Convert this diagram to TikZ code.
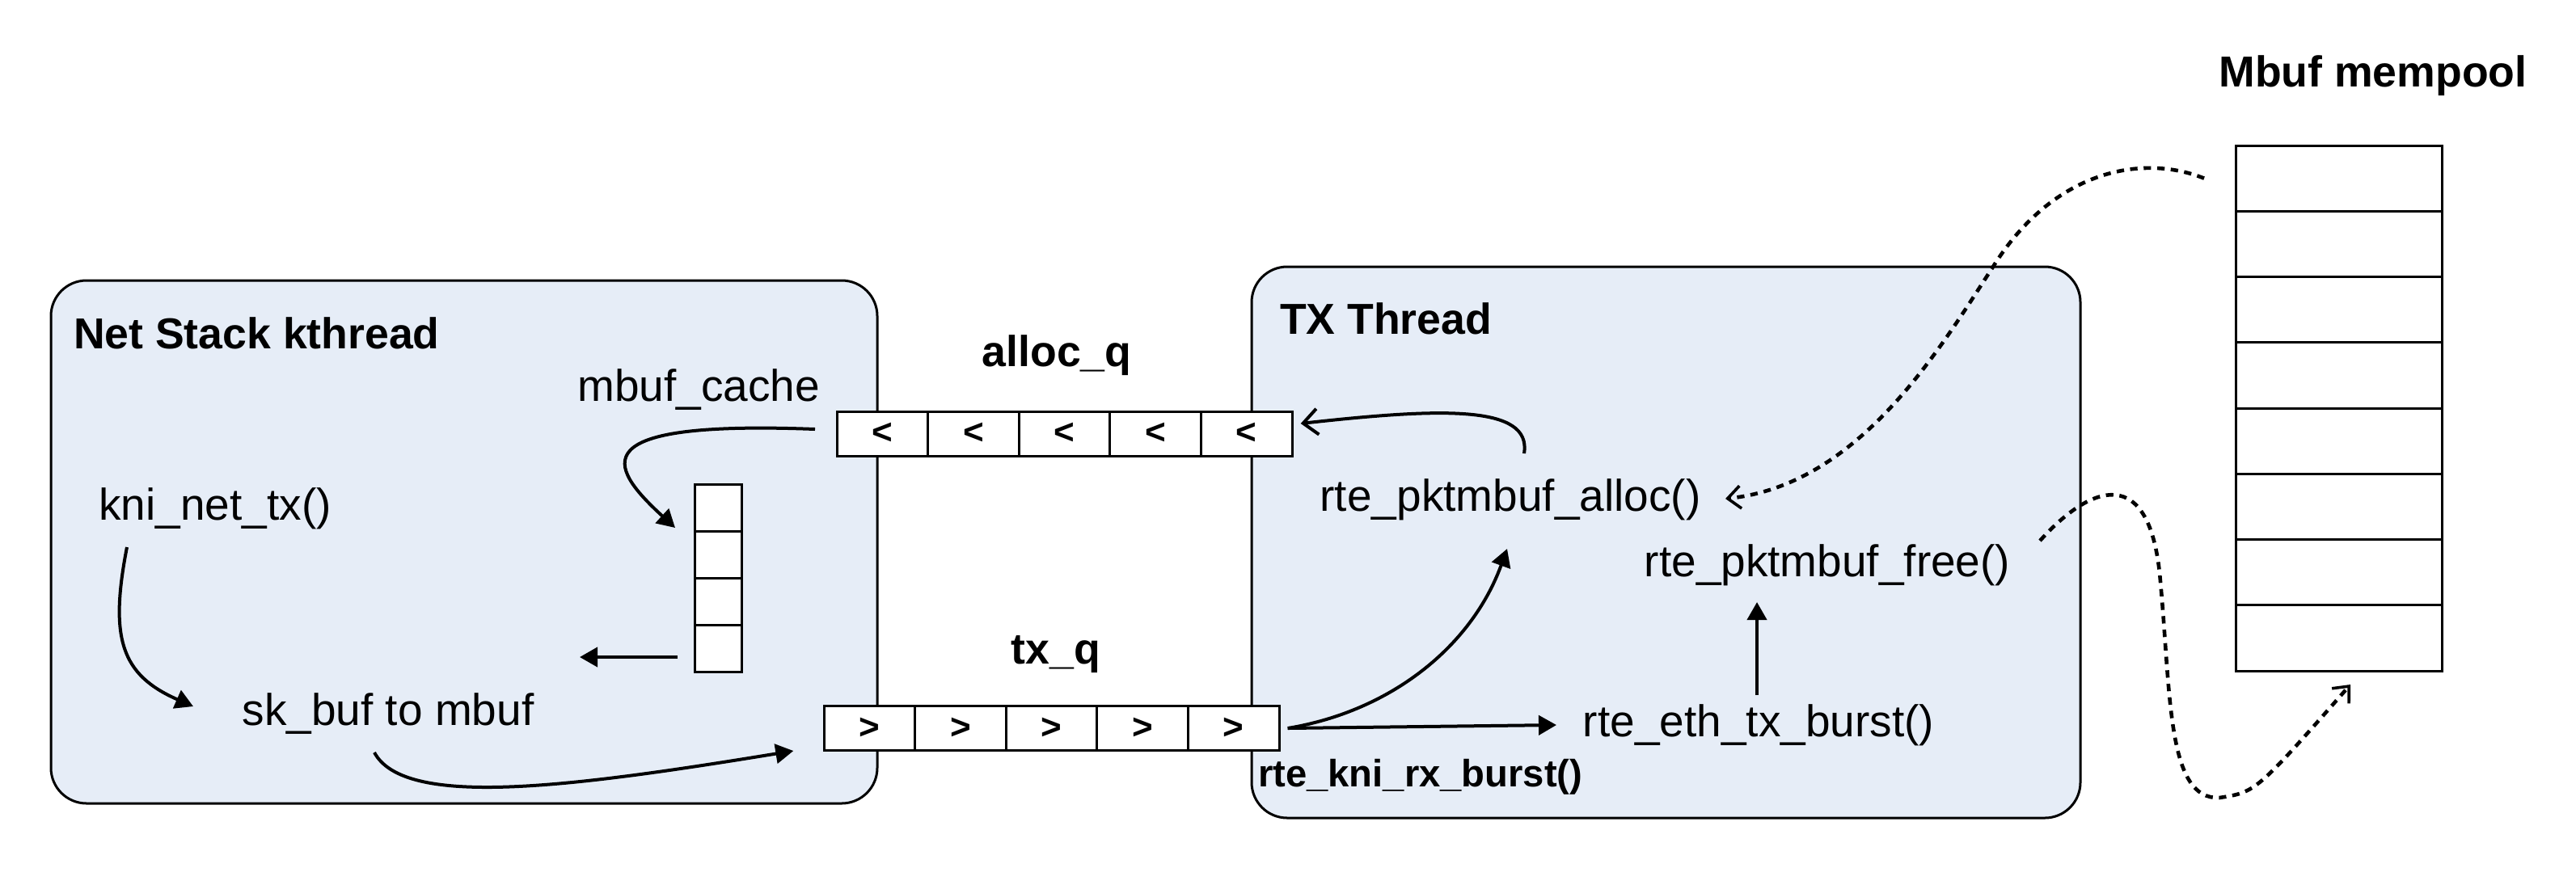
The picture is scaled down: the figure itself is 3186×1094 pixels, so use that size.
\documentclass[tikz,border=0pt]{standalone}
\usepackage{fontspec}
\setmainfont{Liberation Sans}
\usetikzlibrary{arrows.meta}
\definecolor{threadfill}{RGB}{230,237,247}
\begin{document}
\begin{tikzpicture}[x=0.25pt,y=-0.25pt,
  every node/.style={inner sep=0pt, outer sep=0pt},
  txt/.style={font=\fontsize{13.75}{16}\selectfont},
  ttl/.style={font=\bfseries\fontsize{13.4}{16}\selectfont},
  small/.style={font=\bfseries\fontsize{11.8}{14}\selectfont},
  thread/.style={draw, line width=0.75pt, fill=threadfill, rounded corners=11pt},
  qcell/.style={draw, fill=white, line width=0.75pt, minimum width=28.15pt, minimum height=13.75pt, font=\bfseries\fontsize{11}{12}\selectfont},
  scell/.style={draw, fill=white, line width=0.75pt, minimum width=14.5pt, minimum height=14.5pt},
  mcell/.style={draw, fill=white, line width=0.75pt, minimum width=63.75pt, minimum height=20.31pt},
  arr/.style={line width=1pt, -{Triangle[length=5.5pt,width=6pt]}},
  openarr/.style={line width=1pt, -{Straight Barb[length=4.5pt,width=8pt]}},
  dotarr/.style={line width=1.15pt, dash pattern=on 2.3pt off 1.9pt, -{Straight Barb[length=4pt,width=7pt,line width=0.9pt]}}
]
\useasboundingbox (0,0) rectangle (3186,1094);

% thread boxes
\node[thread, minimum width=255.5pt, minimum height=161.75pt] (netbox) at (574,670.5) {};
\node[thread, minimum width=256.25pt, minimum height=170.5pt] (txbox) at (2060.5,671) {};

% queues
\foreach \i in {1,...,5} {
  \node[qcell] (aq\i) at ({1035+112.6*(\i-0.5)},536.5) {<};
  \node[qcell] (tq\i) at ({1019+112.6*(\i-0.5)},901) {>};
}
\foreach \i in {1,...,4} {
  \node[scell] (st\i) at (888,{599+58*(\i-0.5)}) {};
}
\foreach \i in {1,...,8} {
  \node[mcell] (mp\i) at (2892.5,{180+81.25*(\i-0.5)}) {};
}

% labels
\node[ttl, anchor=west] (nettitle) at (91,412) {Net Stack kthread};
\node[ttl, anchor=west] (txtitle) at (1583,394) {TX Thread};
\node[ttl] (allocqlbl) at (1307,440) {alloc\_q};
\node[ttl] (txqlbl) at (1306,810) {tx\_q};
\node[small, anchor=west] (rxburst) at (1556,961) {rte\_kni\_rx\_burst()};
\node[ttl] (mptitle) at (2935,94) {Mbuf mempool};
\node[txt] (mbufcache) at (864,482) {mbuf\_cache};
\node[txt] (kni) at (266,629) {kni\_net\_tx()};
\node[txt] (skbuf) at (480,883) {sk\_buf to mbuf};
\node[txt] (alloc) at (1868,618) {rte\_pktmbuf\_alloc()};
\node[txt] (free) at (2260,699) {rte\_pktmbuf\_free()};
\node[txt] (ethtx) at (2175,897) {rte\_eth\_tx\_burst()};
\coordinate (c3end) at (717,813);

% connectors, left box
\draw[arr] ([shift={(-109,48)}]kni.center) .. controls (135,790) and (150,835) .. ([shift={(-241,-9)}]skbuf.center);
\draw[arr] ([shift={(-83.3,-5.5)}]aq1.center) .. controls (720,520) and (750,575) .. ([shift={(-53,25)}]st1.center);
\draw[arr] ([shift={(-50,11)}]st4.center) -- (c3end);
\draw[arr] ([shift={(-17,48)}]skbuf.center) .. controls (500,1000) and (700,975) .. ([shift={(-94,28)}]tq1.center);

% connectors, TX thread
\draw[openarr] ([shift={(17,-57)}]alloc.center) .. controls (1895,500) and (1780,505) .. ([shift={(67,-12.5)}]aq5.center);
\draw[arr] ([shift={(67,0)}]tq5.center) .. controls (1720,880) and (1820,800) .. ([shift={(-4,61)}]alloc.center);
\draw[arr] ([shift={(67,0)}]tq5.center) -- ([shift={(-250,0)}]ethtx.center);
\draw[arr] ([shift={(-2,-37)}]ethtx.center) -- ([shift={(-87,46)}]free.center);

% mempool connectors
\draw[dotarr] ([shift={(-166.5,0)}]mp1.center) .. controls (2650,190) and (2540,210) .. (2465,330)
   .. controls (2400,430) and (2300,600) .. ([shift={(266,-1)}]alloc.center);
\draw[dotarr] ([shift={(263,-30)}]free.center) .. controls (2585,600) and (2660,570) .. (2672,720)
   .. controls (2685,860) and (2680,990) .. (2745,987)
   .. controls (2790,980) .. ([shift={(14.5,57.6)}]mp8.center);
\end{tikzpicture}
\end{document}
